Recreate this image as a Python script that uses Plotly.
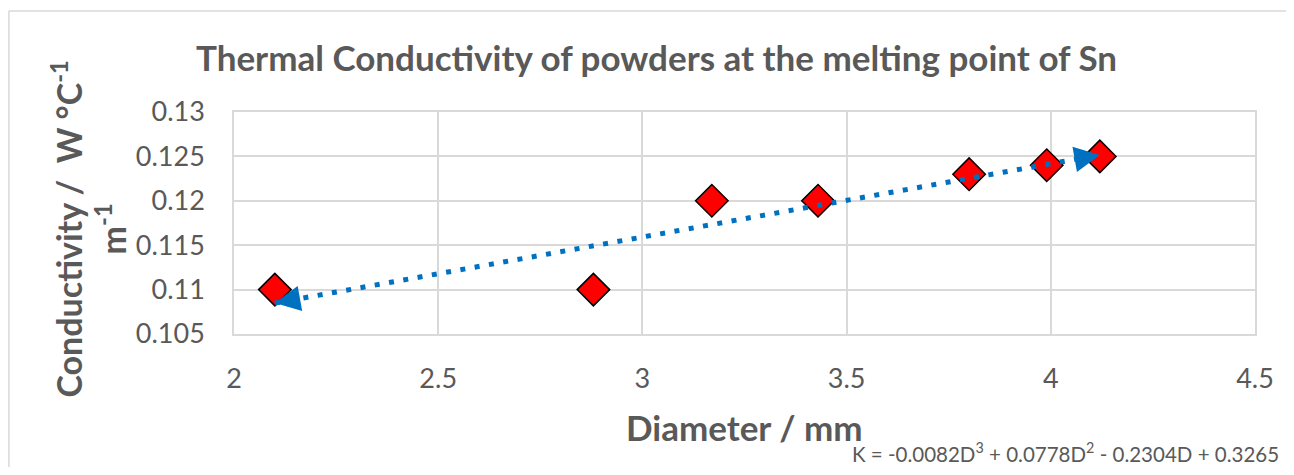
import numpy as np
import plotly.graph_objects as go

# ---- data ----
diameter_mm = [2.10, 2.88, 3.17, 3.43, 3.80, 3.99, 4.12]
conductivity = [0.110, 0.110, 0.120, 0.120, 0.123, 0.124, 0.125]
trend_degree = 1   # the drawn trendline is a straight least-squares fit
x_ticks = [2, 2.5, 3, 3.5, 4, 4.5]
y_ticks = [0.105, 0.11, 0.115, 0.12, 0.125, 0.13]

title_text = "Thermal Conductivity of powders at the melting point of Sn"
x_title = "Diameter / mm"
y_title = "Conductivity /  W °C<sup>-1</sup><br>m<sup>-1</sup>"
eq_text = "K = -0.0082D<sup>3</sup> + 0.0778D<sup>2</sup> - 0.2304D + 0.3265"

FONT = "Lato"
TXT = "#595959"
GRID = "#d9d9d9"

OFF = 8                      # page body margin
W, H = 1294 - 2 * OFF, 475 - 2 * OFF
L, R, T, B = 234, 1259, 112, 334   # plot area in page pixels

def px_x(p):
    return (p - L) / (R - L)

def px_y(p):
    return (B - p) / (B - T)

poly = np.poly1d(np.polyfit(diameter_mm, conductivity, trend_degree))
tx = np.linspace(min(diameter_mm), max(diameter_mm), 200)
ty = poly(tx)

fig = go.Figure()
fig.add_trace(go.Scatter(
    x=diameter_mm, y=conductivity, mode="markers",
    marker=dict(symbol="diamond", size=25, color="#ff0000",
                line=dict(color="#000000", width=1.5)),
    showlegend=False, hoverinfo="x+y"))
fig.add_trace(go.Scatter(
    x=tx, y=ty, mode="lines",
    line=dict(color="#0070c0", width=5, dash="5px,9.5px"),
    showlegend=False, hoverinfo="skip"))

x0, x1 = min(diameter_mm), max(diameter_mm)
d = 0.03
annotations = [
    dict(x=x0, y=poly(x0), ax=x0 + d, ay=poly(x0 + d), xref="x", yref="y",
         axref="x", ayref="y", showarrow=True, arrowhead=2, arrowsize=1.7,
         arrowwidth=3, arrowcolor="#0070c0", text="", standoff=0),
    dict(x=x1, y=poly(x1), ax=x1 - d, ay=poly(x1 - d), xref="x", yref="y",
         axref="x", ayref="y", showarrow=True, arrowhead=2, arrowsize=1.7,
         arrowwidth=3, arrowcolor="#0070c0", text="", standoff=0),
    dict(text=title_text, x=px_x(658), y=px_y(57), xref="paper", yref="paper",
         showarrow=False, xanchor="center", yanchor="middle",
         font=dict(family=FONT, size=35, color=TXT, weight="bold")),
    dict(text=x_title, x=px_x(746), y=px_y(427), xref="paper", yref="paper",
         showarrow=False, xanchor="center", yanchor="middle",
         font=dict(family=FONT, size=35, color=TXT, weight="bold")),
    dict(text=y_title, x=px_x(88), y=px_y(229), xref="paper", yref="paper",
         showarrow=False, xanchor="center", yanchor="middle", textangle=-90,
         font=dict(family=FONT, size=34, color=TXT, weight="bold")),
    dict(text=eq_text, x=px_x(852), y=px_y(452), xref="paper", yref="paper",
         showarrow=False, xanchor="left", yanchor="middle",
         font=dict(family=FONT, size=20.5, color=TXT)),
]

shapes = [
    dict(type="line", xref="paper", yref="paper", x0=px_x(8), x1=px_x(8),
         y0=px_y(11), y1=px_y(500), line=dict(color=GRID, width=1.5)),
    dict(type="line", xref="paper", yref="paper", x0=px_x(8), x1=px_x(1300),
         y0=px_y(11), y1=px_y(11), line=dict(color=GRID, width=1.5)),
]

fig.update_layout(
    width=W, height=H,
    margin=dict(l=L - OFF, r=W - (R - OFF), t=T - OFF, b=H - (B - OFF), pad=0),
    paper_bgcolor="white", plot_bgcolor="white",
    font=dict(family=FONT, color=TXT),
    annotations=annotations, shapes=shapes,
    xaxis=dict(range=[2, 4.5], tickvals=x_ticks, ticktext=[str(v) for v in x_ticks],
               showgrid=True, gridcolor=GRID, gridwidth=1.5,
               showline=True, linecolor=GRID, linewidth=1.5, mirror=True,
               zeroline=False, ticks="", ticklabelstandoff=20,
               tickfont=dict(family=FONT, size=27, color=TXT)),
    yaxis=dict(range=[0.105, 0.13], tickvals=y_ticks, ticktext=[str(v) for v in y_ticks],
               showgrid=True, gridcolor=GRID, gridwidth=1.5,
               showline=True, linecolor=GRID, linewidth=1.5, mirror=True,
               zeroline=False, ticks="", ticklabelstandoff=22,
               tickfont=dict(family=FONT, size=27, color=TXT)),
)

fig.write_html("out.html")
